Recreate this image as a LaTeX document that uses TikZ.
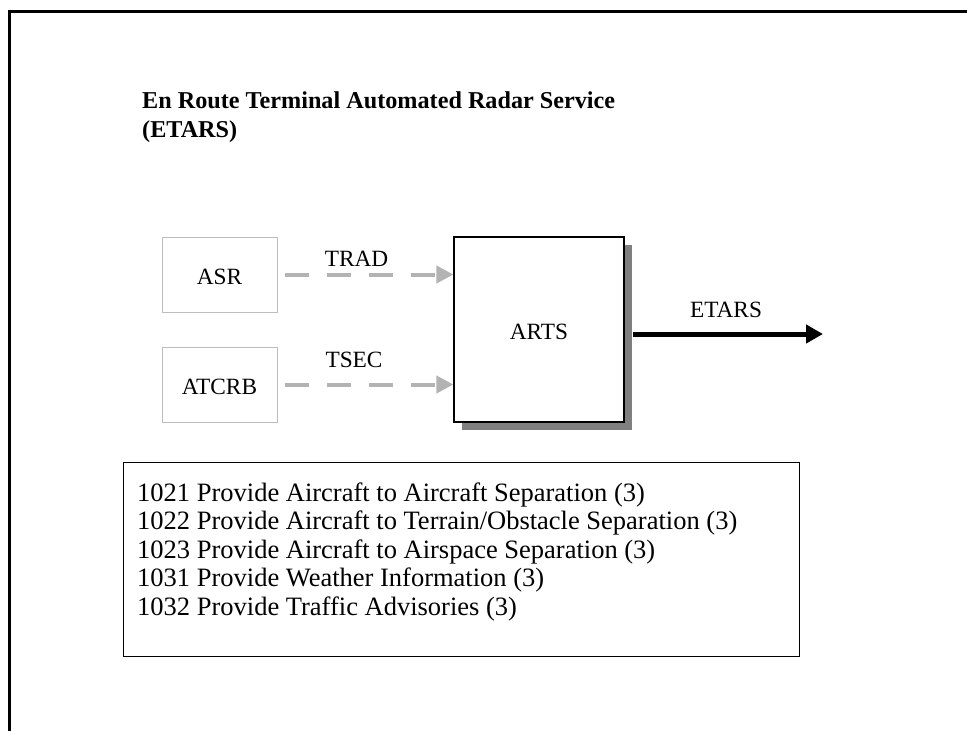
\documentclass[tikz,border=0pt]{standalone}
\usepackage{fontspec}
\setmainfont{Liberation Serif}
\usetikzlibrary{arrows.meta,shadows}
\definecolor{boxgray}{HTML}{BDBDBD}
\definecolor{dashgray}{HTML}{B3B3B3}
\definecolor{shadowgray}{HTML}{808080}
\begin{document}
\begin{tikzpicture}[x=1pt,y=-1pt,
  lbl/.style={font=\fontsize{23.3}{27}\selectfont, inner sep=0pt},
  srcbox/.style={draw=boxgray, line width=1pt, minimum width=115pt, minimum height=75pt, inner sep=0pt,
     font=\fontsize{23.3}{27}\selectfont, text height=20pt, text depth=0pt},
  artsbox/.style={draw=black, line width=1.2pt, fill=white, minimum width=170pt, minimum height=185pt, inner sep=0pt,
     font=\fontsize{23.3}{27}\selectfont, text height=19pt, text depth=0pt,
     general shadow={shadow xshift=8pt, shadow yshift=-8pt, fill=shadowgray}},
  listline/.style={font=\fontsize{26.5}{28.5}\selectfont, inner sep=0pt, anchor=base west},
  titleline/.style={font=\bfseries\fontsize{24.2}{28.5}\selectfont, inner sep=0pt, anchor=base west},
  grayarrow/.style={draw=dashgray, line width=4pt, dash pattern=on 24pt off 18pt, -{Triangle[length=17pt,width=17pt]}},
  blackarrow/.style={draw=black, line width=5pt, -{Triangle[length=17pt,width=18pt]}}
]
\useasboundingbox (0,0) rectangle (967,731);
% frame
\draw[line width=3pt] (9.5,731) -- (9.5,11.5) -- (967,11.5);
% title
\node[titleline] (title1) at (142,108.5) {En Route Terminal Automated Radar Service};
\node[titleline] (title2) at (142,137) {(ETARS)};
% boxes
\node[srcbox] (asr) at (219.5,274.5) {ASR};
\node[srcbox] (atcrb) at (219.5,384.5) {ATCRB};
\node[artsbox] (arts) at (539,329.5) {ARTS};
% arrows
\draw[grayarrow] ([xshift=7pt]asr.east) -- (arts.west |- asr.east);
\draw[grayarrow] ([xshift=7pt]atcrb.east) -- (arts.west |- atcrb.east);
\coordinate (etarsend) at (823,334);
\draw[blackarrow] ([xshift=8pt]arts.east |- etarsend) -- (etarsend);
% arrow labels
\node[lbl, anchor=base] (trad) at (356.5,266) {TRAD};
\node[lbl, anchor=base] (tsec) at (354,367) {TSEC};
\node[lbl, anchor=base] (etars) at (726,317) {ETARS};
% list box
\node[draw=black, line width=1pt, minimum width=676pt, minimum height=194pt, inner sep=0pt] (listbox) at (461,559) {};
\node[listline] (l1) at (137,501) {1021 Provide Aircraft to Aircraft Separation (3)};
\node[listline] (l2) at (137,529.5) {1022 Provide Aircraft to Terrain/Obstacle Separation (3)};
\node[listline] (l3) at (137,558) {1023 Provide Aircraft to Airspace Separation (3)};
\node[listline] (l4) at (137,586.5) {1031 Provide Weather Information (3)};
\node[listline] (l5) at (137,615) {1032 Provide Traffic Advisories (3)};
\end{tikzpicture}
\end{document}
